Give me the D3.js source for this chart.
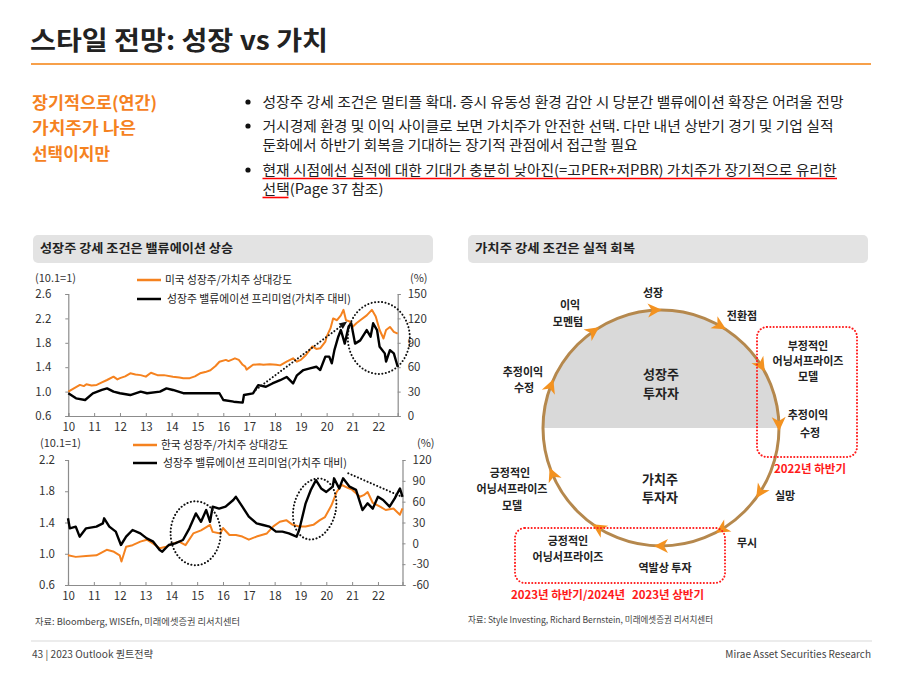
<!DOCTYPE html>
<html><head><meta charset="utf-8">
<script src="https://cdn.jsdelivr.net/npm/d3@7"></script>
<style>
body{margin:0;background:#fff}
svg{display:block}
text{font-family:"Noto Sans CJK KR","Noto Sans",sans-serif;fill:#222}
</style>
</head><body>
<svg id="c" width="900" height="675"></svg>
<script>
// ---------------- DATA ----------------
const yearTicks = [2010,2011,2012,2013,2014,2015,2016,2017,2018,2019,2020,2021,2022];
const yearLabels = ["10","11","12","13","14","15","16","17","18","19","20","21","22"];

const usLeftTicks = [0.6,1.0,1.4,1.8,2.2,2.6];
const usRightTicks = [0,30,60,90,120,150];
const krLeftTicks = [0.6,1.0,1.4,1.8,2.2];
const krRightTicks = [-60,-30,0,30,60,90,120];

// US growth/value relative strength (10.1=1)
const usRelStrength = [[2010.0,1.0],[2010.2,1.05],[2010.45,1.11],[2010.6,1.09],[2010.7,1.12],[2010.9,1.1],[2011.1,1.11],[2011.3,1.15],[2011.5,1.19],[2011.75,1.245],[2011.9,1.2],[2012.0,1.22],[2012.2,1.25],[2012.4,1.30],[2012.6,1.28],[2012.8,1.27],[2013.0,1.245],[2013.2,1.31],[2013.45,1.27],[2013.7,1.27],[2014.05,1.245],[2014.3,1.23],[2014.45,1.22],[2014.7,1.22],[2014.9,1.25],[2015.1,1.30],[2015.3,1.32],[2015.5,1.35],[2015.7,1.42],[2015.85,1.49],[2016.1,1.52],[2016.2,1.50],[2016.45,1.545],[2016.6,1.52],[2016.75,1.44],[2016.85,1.41],[2016.9,1.36],[2017.15,1.44],[2017.4,1.45],[2017.55,1.44],[2017.8,1.45],[2018.05,1.44],[2018.2,1.43],[2018.45,1.49],[2018.7,1.545],[2018.85,1.49],[2019.0,1.52],[2019.2,1.60],[2019.45,1.74],[2019.6,1.70],[2019.75,1.71],[2019.95,1.82],[2020.0,1.90],[2020.15,2.04],[2020.25,2.20],[2020.4,2.17],[2020.55,2.25],[2020.65,2.34],[2020.75,2.17],[2020.9,2.15],[2021.0,2.06],[2021.15,2.12],[2021.3,2.17],[2021.55,2.25],[2021.75,2.34],[2021.9,2.23],[2022.05,2.01],[2022.2,1.87],[2022.3,2.01],[2022.45,2.06],[2022.6,1.98],[2022.75,1.95]];
// US growth valuation premium vs value (%)
const usPremium = [[2010.0,28],[2010.3,21.7],[2010.65,19.7],[2010.95,27.9],[2011.3,32],[2011.5,34],[2011.75,30],[2012.0,28],[2012.4,25.8],[2012.8,30],[2013.05,28],[2013.55,30],[2013.8,34],[2014.05,32],[2014.45,28],[2014.8,28],[2015.1,28],[2015.5,28],[2015.85,28],[2016.0,19.7],[2016.4,17.6],[2016.75,16.4],[2016.8,25.8],[2017.15,27.9],[2017.35,38],[2017.65,36],[2017.9,40],[2018.2,44],[2018.45,48],[2018.7,40],[2018.85,50],[2019.1,56.5],[2019.35,58.6],[2019.6,60.6],[2019.75,56.5],[2019.95,73],[2020.1,73],[2020.2,64.7],[2020.3,81],[2020.45,97.5],[2020.55,105.7],[2020.7,89],[2020.85,110],[2020.95,114],[2021.1,89],[2021.3,93],[2021.55,105.7],[2021.7,97.5],[2021.8,114],[2021.95,105.7],[2022.05,85],[2022.25,77],[2022.3,67],[2022.45,81],[2022.6,77],[2022.75,60.6]];

// Korea growth/value relative strength (10.1=1)
const krRelStrength = [[2010.0,0.98],[2010.3,0.96],[2010.7,0.97],[2011.1,0.98],[2011.5,1.05],[2011.75,1.03],[2012.0,0.98],[2012.07,0.90],[2012.25,1.09],[2012.5,1.11],[2012.8,1.155],[2013.05,1.18],[2013.3,1.13],[2013.55,1.07],[2013.8,1.09],[2014.05,1.13],[2014.3,1.155],[2014.55,1.11],[2014.85,1.26],[2015.15,1.30],[2015.5,1.37],[2015.6,1.28],[2015.9,1.26],[2016.0,1.33],[2016.25,1.24],[2016.5,1.24],[2016.75,1.22],[2017.0,1.18],[2017.3,1.22],[2017.7,1.26],[2017.95,1.35],[2018.2,1.41],[2018.45,1.43],[2018.7,1.37],[2018.95,1.35],[2019.2,1.35],[2019.5,1.37],[2019.75,1.43],[2019.95,1.47],[2020.2,1.62],[2020.4,1.79],[2020.6,1.88],[2020.85,1.84],[2021.0,1.82],[2021.3,1.73],[2021.45,1.75],[2021.6,1.79],[2021.8,1.65],[2022.1,1.60],[2022.3,1.56],[2022.6,1.58],[2022.85,1.50],[2022.95,1.58]];
// Korea growth valuation premium vs value (%)
const krPremium = [[2010.0,36],[2010.07,21.6],[2010.3,24],[2010.45,9.6],[2010.7,21.6],[2011.1,24],[2011.35,28.8],[2011.4,36],[2011.6,24],[2011.85,16.8],[2012.05,-2.4],[2012.25,9.6],[2012.5,19.2],[2012.8,14.4],[2013.05,7.2],[2013.3,2.4],[2013.55,-9.6],[2013.65,-12],[2013.9,-2.4],[2014.15,0],[2014.45,4.8],[2014.7,21.6],[2014.95,43],[2015.15,31],[2015.35,48],[2015.5,31],[2015.6,52.8],[2015.85,50],[2016.1,52.8],[2016.4,62.4],[2016.5,67],[2016.75,52.8],[2017.0,38.4],[2017.3,28.8],[2017.55,26.4],[2017.8,24],[2018.05,16.8],[2018.3,16.8],[2018.55,14.4],[2018.85,9.6],[2018.95,19.2],[2019.2,57.6],[2019.4,76.8],[2019.6,91],[2019.8,79],[2020.0,74],[2020.25,81.6],[2020.3,93.6],[2020.5,79],[2020.65,93.6],[2020.9,81.6],[2021.15,77],[2021.4,48],[2021.6,57.6],[2021.8,50],[2022.0,67],[2022.2,62.4],[2022.45,52.8],[2022.65,64.8],[2022.85,79],[2022.95,67]];

const titleText = "스타일 전망: 성장 vs 가치";
const sideText = ["장기적으로(연간)","가치주가 나은","선택이지만"];
const bulletText = [
  "성장주 강세 조건은 멀티플 확대. 증시 유동성 환경 감안 시 당분간 밸류에이션 확장은 어려울 전망",
  "거시경제 환경 및 이익 사이클로 보면 가치주가 안전한 선택. 다만 내년 상반기 경기 및 기업 실적",
  "둔화에서 하반기 회복을 기대하는 장기적 관점에서 접근할 필요",
  "현재 시점에선 실적에 대한 기대가 충분히 낮아진(=고PER+저PBR) 가치주가 장기적으로 유리한",
  "선택(Page 37 참조)"
];

// ---------------- DRAW ----------------
const svg = d3.select("#c");
const FONT = '"Noto Sans CJK KR","Noto Sans",sans-serif';
const ORANGE = "#f5821f";

function txt(x, y, s, o = {}) {
  const t = svg.append("text").attr("x", x).attr("y", y).attr("dy", "0.35em").text(s)
    .attr("font-size", o.size || 12)
    .attr("text-anchor", o.anchor || "start")
    .attr("font-weight", o.weight || 400)
    .style("fill", o.color || "#222");
  if (o.len) t.attr("textLength", o.len).attr("lengthAdjust", "spacingAndGlyphs");
  return t;
}

// title
txt(30, 41, titleText, {size: 26, weight: 700, color: "#222", len: 298});
svg.append("line").attr("x1", 31).attr("x2", 871).attr("y1", 64).attr("y2", 64)
  .attr("stroke", "#f7a04a").attr("stroke-width", 2);

// side orange text
const sideY = [103, 128, 154], sideW = [125, 104, 78];
sideText.forEach((s, i) => txt(32, sideY[i], s, {size: 17, weight: 700, color: ORANGE, len: sideW[i]}));

// bullets
const bulY = [102, 126, 145, 170, 189], bulW = [581, 571, 375, 574, 121], bulDot = [true, true, false, true, false];
bulletText.forEach((s, i) => {
  if (bulDot[i]) svg.append("circle").attr("cx", 248).attr("cy", bulY[i]).attr("r", 2.6).attr("fill", "#111");
  txt(262.5, bulY[i], s, {size: 14, len: bulW[i]});
});
svg.append("line").attr("x1", 262.5).attr("x2", 837).attr("y1", 178.5).attr("y2", 178.5).attr("stroke", "#ff0000").attr("stroke-width", 1.6);
svg.append("line").attr("x1", 262.5).attr("x2", 288.5).attr("y1", 197.5).attr("y2", 197.5).attr("stroke", "#ff0000").attr("stroke-width", 1.6);

// header boxes
[[33, "성장주 강세 조건은 밸류에이션 상승", 193], [468, "가치주 강세 조건은 실적 회복", 160]].forEach(([x, s, w]) => {
  svg.append("rect").attr("x", x).attr("y", 235).attr("width", 400).attr("height", 28).attr("rx", 5).attr("fill", "#e3e3e3");
  txt(x + 7, 249, s, {size: 12.5, weight: 700, len: w});
});

// ---------------- line charts ----------------
function lineChart(cfg) {
  const x = d3.scaleLinear().domain(cfg.xDomain).range([cfg.left, cfg.right]);
  const yL = d3.scaleLinear().domain(cfg.lDomain).range([cfg.bottom, cfg.top]);
  const yR = d3.scaleLinear().domain(cfg.rDomain).range([cfg.bottom, cfg.top]);
  const g = svg.append("g");
  const ax = g.append("g").attr("transform", `translate(0,${cfg.bottom})`)
    .call(d3.axisBottom(x).tickValues(yearTicks).tickFormat((d, i) => yearLabels[i]).tickSize(-3).tickPadding(7));
  const axL = g.append("g").attr("transform", `translate(${cfg.left},0)`)
    .call(d3.axisLeft(yL).tickValues(cfg.lTicks).tickFormat(d3.format(".1f")).tickSize(3).tickPadding(cfg.lPad));
  const axR = g.append("g").attr("transform", `translate(${cfg.right},0)`)
    .call(d3.axisRight(yR).tickValues(cfg.rTicks).tickFormat(d => String(d)).tickSize(3).tickPadding(7));
  [ax, axL, axR].forEach(a => {
    a.select(".domain").attr("stroke", "#8c8c8c").attr("stroke-width", 1.2);
    a.selectAll(".tick line").attr("stroke", "#8c8c8c");
    a.selectAll("text").attr("font-family", FONT).attr("font-size", 11.5).style("fill", "#333");
  });
  const lineL = d3.line().x(d => x(d[0])).y(d => yL(d[1]));
  const lineR = d3.line().x(d => x(d[0])).y(d => yR(d[1]));
  g.append("path").datum(cfg.orange).attr("d", lineL).attr("fill", "none").attr("stroke", ORANGE).attr("stroke-width", 2).attr("stroke-linejoin", "round");
  g.append("path").datum(cfg.black).attr("d", lineR).attr("fill", "none").attr("stroke", "#000").attr("stroke-width", 2.4).attr("stroke-linejoin", "round");
  // legend
  g.append("line").attr("x1", cfg.legX).attr("x2", cfg.legX + 24).attr("y1", cfg.legY[0]).attr("y2", cfg.legY[0]).attr("stroke", ORANGE).attr("stroke-width", 2.5);
  g.append("line").attr("x1", cfg.legX).attr("x2", cfg.legX + 24).attr("y1", cfg.legY[1]).attr("y2", cfg.legY[1]).attr("stroke", "#000").attr("stroke-width", 2.5);
  txt(cfg.legX + 28, cfg.legY[0], cfg.leg[0], {size: 11, len: 127});
  txt(cfg.legX + 30, cfg.legY[1], cfg.leg[1], {size: 11, len: 184});
  txt(cfg.unitL, cfg.legY[0] - 2, "(10.1=1)", {size: 11, color: "#333"});
  txt(cfg.unitR, cfg.legY[0] - 2, "(%)", {size: 11, color: "#333"});
  return {x, yL, yR, g};
}

function dots(sel, w) {
  return sel.attr("fill", "none").attr("stroke", "#111").attr("stroke-width", w || 2)
    .attr("stroke-dasharray", "0.1,3.4").attr("stroke-linecap", "round");
}

const us = lineChart({
  xDomain: [2010, 2022.75], left: 68.3, right: 397.7, top: 294, bottom: 416,
  lDomain: [0.6, 2.6], rDomain: [0, 150], lTicks: usLeftTicks, rTicks: usRightTicks, lPad: 14,
  orange: usRelStrength, black: usPremium,
  legX: 137, legY: [280, 299], unitL: 35, unitR: 410,
  leg: ["미국 성장주/가치주  상대강도", "성장주 밸류에이션 프리미엄(가치주  대비)"]
});
dots(us.g.append("ellipse").attr("cx", us.x(2022.02)).attr("cy", us.yL(1.88)).attr("rx", 31).attr("ry", 36));
const a0 = [us.x(2017.26), us.yL(1.03)], a1 = [us.x(2020.67), us.yL(2.11)];
dots(us.g.append("line").attr("x1", a0[0]).attr("y1", a0[1]).attr("x2", a1[0]).attr("y2", a1[1]));
{
  const ang = Math.atan2(a1[1] - a0[1], a1[0] - a0[0]) * 180 / Math.PI;
  us.g.append("path").attr("d", "M4,0 L-4,-3.5 L-4,3.5 Z").attr("fill", "#111")
    .attr("transform", `translate(${a1[0]},${a1[1]}) rotate(${ang})`);
}

const kr = lineChart({
  xDomain: [2010, 2022.95], left: 68, right: 402.5, top: 460, bottom: 585,
  lDomain: [0.6, 2.2], rDomain: [-60, 120], lTicks: krLeftTicks, rTicks: krRightTicks, lPad: 10,
  orange: krRelStrength, black: krPremium,
  legX: 133, legY: [445, 463], unitL: 40, unitR: 417,
  leg: ["한국 성장주/가치주  상대강도", "성장주 밸류에이션 프리미엄(가치주  대비)"]
});
dots(kr.g.append("ellipse").attr("cx", kr.x(2014.94)).attr("cy", kr.yL(1.262)).attr("rx", 25).attr("ry", 32));
dots(kr.g.append("ellipse").attr("rx", 21).attr("ry", 31)
  .attr("transform", `translate(${kr.x(2019.55)},${kr.yL(1.573)}) rotate(14)`));
dots(kr.g.append("line").attr("x1", kr.x(2020.85)).attr("y1", kr.yL(2.03)).attr("x2", kr.x(2022.92)).attr("y2", kr.yL(1.73)));

// sources
txt(35, 622, "자료: Bloomberg, WISEfn, 미래에셋증권 리서치센터", {size: 9, color: "#444", len: 205});
txt(468, 620, "자료: Style Investing, Richard Bernstein, 미래에셋증권 리서치센터", {size: 9, color: "#444", len: 245});

// ---------------- cycle diagram ----------------
const cx = 661, cy = 428, r = 118;
svg.append("path").attr("d", `M${cx - r},${cy} A${r},${r} 0 0 1 ${cx + r},${cy} Z`).attr("fill", "#d9d9d9");
svg.append("circle").attr("cx", cx).attr("cy", cy).attr("r", r).attr("fill", "none").attr("stroke", "#b5884d").attr("stroke-width", 3);
const arrowAngles = [-159, -125, -93, -60, -32, -2, 33, 59, 90, 122, 157];
arrowAngles.forEach(a => {
  const t = a * Math.PI / 180;
  svg.append("path").attr("d", "M7,0 L-7,-7 L-3,0 L-7,7 Z").attr("fill", "#f39220")
    .attr("transform", `translate(${cx + r * Math.cos(t)},${cy + r * Math.sin(t)}) rotate(${a + 90})`);
});
[[757, 327, 100, 130], [515, 528, 210, 55]].forEach(([x, y, w, h]) => {
  svg.append("rect").attr("x", x).attr("y", y).attr("width", w).attr("height", h).attr("rx", 10)
    .attr("fill", "none").attr("stroke", "#ff1a1a").attr("stroke-width", 2)
    .attr("stroke-dasharray", "0.1,3.2").attr("stroke-linecap", "round");
});
const cycleLabels = [
  ["성장", 653, 293], ["이익", 570, 305], ["모멘텀", 568, 322], ["전환점", 742, 316],
  ["추정이익", 523, 372], ["수정", 524, 388],
  ["부정적인", 808, 346], ["어닝서프라이즈", 808, 361.5], ["모델", 808, 377],
  ["추정이익", 808, 415], ["수정", 810, 433],
  ["실망", 785, 496], ["무시", 747, 543],
  ["긍정적인", 510, 473], ["어닝서프라이즈", 512, 489.5], ["모델", 512, 506],
  ["긍정적인", 568, 541.5], ["어닝서프라이즈", 568, 557], ["역발상 투자", 665, 568]
];
cycleLabels.forEach(([s, x, y]) => txt(x, y, s, {size: 11, weight: 700, anchor: "middle", color: "#222"}));
[["성장주", 661, 374.5], ["투자자", 661, 393], ["가치주", 660, 479], ["투자자", 660, 497.5]]
  .forEach(([s, x, y]) => txt(x, y, s, {size: 13, weight: 700, anchor: "middle", color: "#222"}));
[["2022년 하반기", 810, 469], ["2023년 하반기/2024년", 568, 595], ["2023년 상반기", 668, 595]]
  .forEach(([s, x, y]) => txt(x, y, s, {size: 11.5, weight: 700, anchor: "middle", color: "#ff1a1a"}));

// footer
svg.append("line").attr("x1", 31).attr("x2", 872).attr("y1", 641).attr("y2", 641).attr("stroke", "#e6e6e6").attr("stroke-width", 1.5);
txt(32, 654, "43 | 2023 Outlook 퀀트전략", {size: 10, color: "#444", len: 121});
txt(871, 654, "Mirae Asset Securities Research", {size: 10, color: "#444", anchor: "end"});
</script>
</body></html>
